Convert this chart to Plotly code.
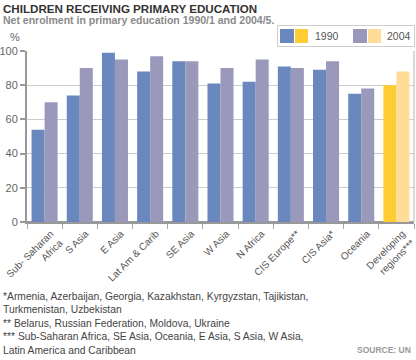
import plotly.graph_objects as go

# ---- data ----
categories = ["Sub- Saharan<br>Africa", "S Asia", "E Asia", "Lat Am & Carib", "SE Asia",
              "W Asia", "N Africa", "CIS Europe**", "CIS Asia*", "Oceania",
              "Developing<br>regions***"]
enrol_1990 = [54, 74, 99, 88, 94, 81, 82, 91, 89, 75, 80]
enrol_2004 = [70, 90, 95, 97, 94, 90, 95, 90, 94, 78, 88]
y_ticks = [0, 20, 40, 60, 80, 100]
series_names = ["1990", "2004"]

title = "CHILDREN RECEIVING PRIMARY EDUCATION"
subtitle = "Net enrolment in primary education 1990/1 and 2004/5."
footnotes = [
    "*Armenia, Azerbaijan, Georgia, Kazakhstan, Kyrgyzstan, Tajikistan,",
    "Turkmenistan, Uzbekistan",
    "** Belarus, Russian Federation, Moldova, Ukraine",
    "*** Sub-Saharan Africa, SE Asia, Oceania, E Asia, S Asia, W Asia,",
    "Latin America and Caribbean",
]
source = "SOURCE: UN"

# ---- styles ----
W, H = 416, 360
ML, MR, MT, MB = 27, 2, 51, 138
BLUE, PURPLE, GOLD, PALE = "#6a88bd", "#9b99bb", "#ffcc33", "#ffdd99"
FONT = "Arial, Liberation Sans, sans-serif"

n = len(categories)
col1990 = [BLUE] * (n - 1) + [GOLD]
col2004 = [PURPLE] * (n - 1) + [PALE]

pw, ph = W - ML - MR, H - MT - MB


def px(x):
    return (x - ML) / pw


def py(y):
    return (H - MB - y) / ph


fig = go.Figure()
fig.add_trace(go.Bar(x=categories, y=enrol_1990, name=series_names[0],
                     marker=dict(color=col1990, line=dict(width=0)), showlegend=False,
                     hoverinfo="skip"))
fig.add_trace(go.Bar(x=categories, y=enrol_2004, name=series_names[1],
                     marker=dict(color=col2004, line=dict(width=0)), showlegend=False,
                     hoverinfo="skip"))

shapes = []
# right frame line
shapes.append(dict(type="line", xref="paper", yref="paper", x0=1, x1=1, y0=0, y1=1,
                   line=dict(color="#cccccc", width=1.5)))
# legend box
shapes.append(dict(type="rect", xref="paper", yref="paper",
                   x0=px(277.5), x1=px(414.5), y0=py(25.5), y1=py(46.5),
                   line=dict(color="#cccccc", width=1), fillcolor="white"))
for (x0, x1, c) in [(280, 294, BLUE), (295, 308, GOLD), (353, 367, PURPLE), (368, 381, PALE)]:
    shapes.append(dict(type="rect", xref="paper", yref="paper",
                       x0=px(x0), x1=px(x1), y0=py(29), y1=py(43),
                       line=dict(width=0), fillcolor=c))

annotations = [
    dict(text="<b>" + title + "</b>", x=px(1), y=py(-0.5), xref="paper", yref="paper",
         xanchor="left", yanchor="top", showarrow=False,
         font=dict(family=FONT, size=11.6, color="#333333")),
    dict(text="<b>" + subtitle + "</b>", x=px(1), y=py(11.5), xref="paper", yref="paper",
         xanchor="left", yanchor="top", showarrow=False,
         font=dict(family=FONT, size=10.5, color="#8a8a8a")),
    dict(text="%", x=px(15), y=py(45), xref="paper", yref="paper",
         xanchor="center", yanchor="bottom", showarrow=False,
         font=dict(family=FONT, size=11, color="#666666")),
    dict(text=series_names[0], x=px(313), y=py(36), xref="paper", yref="paper",
         xanchor="left", yanchor="middle", showarrow=False,
         font=dict(family=FONT, size=10.5, color="#555555")),
    dict(text=series_names[1], x=px(385), y=py(36), xref="paper", yref="paper",
         xanchor="left", yanchor="middle", showarrow=False,
         font=dict(family=FONT, size=10.5, color="#555555")),
    dict(text="<br>".join(footnotes), x=px(1), y=py(289), xref="paper", yref="paper",
         xanchor="left", yanchor="top", align="left", showarrow=False,
         font=dict(family=FONT, size=10.3, color="#444444")),
    dict(text="<b>" + source + "</b>", x=px(413), y=py(357), xref="paper", yref="paper",
         xanchor="right", yanchor="bottom", showarrow=False,
         font=dict(family=FONT, size=8.5, color="#999999")),
]

fig.update_layout(
    width=W, height=H,
    margin=dict(l=ML, r=MR, t=MT, b=MB, pad=0),
    paper_bgcolor="white", plot_bgcolor="white",
    barmode="group", bargap=0.26, bargroupgap=0,
    showlegend=False, hovermode=False,
    font=dict(family=FONT, color="#555555"),
    shapes=shapes, annotations=annotations,
    xaxis=dict(
        type="category", range=[-0.5, n - 0.5], tickangle=-45,
        ticks="outside", tickson="boundaries", ticklen=5, tickcolor="#aaaaaa", tickwidth=1,
        showline=True, linecolor="#999999", linewidth=2,
        showgrid=False, tickfont=dict(family=FONT, size=10, color="#555555"),
        ticklabelshift=6,
        automargin=False, fixedrange=True,
    ),
    yaxis=dict(
        range=[0, 100], tickvals=y_ticks, ticks="outside", ticklen=5,
        tickcolor="#999999", tickwidth=2,
        showline=True, linecolor="#999999", linewidth=2,
        showgrid=True, gridcolor="#cccccc", gridwidth=1,
        zeroline=True, zerolinecolor="#999999", zerolinewidth=2,
        tickfont=dict(family=FONT, size=11, color="#666666"),
        tickprefix="<b>", ticksuffix="</b>",
        automargin=False, fixedrange=True,
    ),
)

fig.write_html(
    "out.html",
    config={"displayModeBar": False, "staticPlot": True},
    post_script="document.body.style.margin='0';document.body.style.overflow='hidden';",
)
